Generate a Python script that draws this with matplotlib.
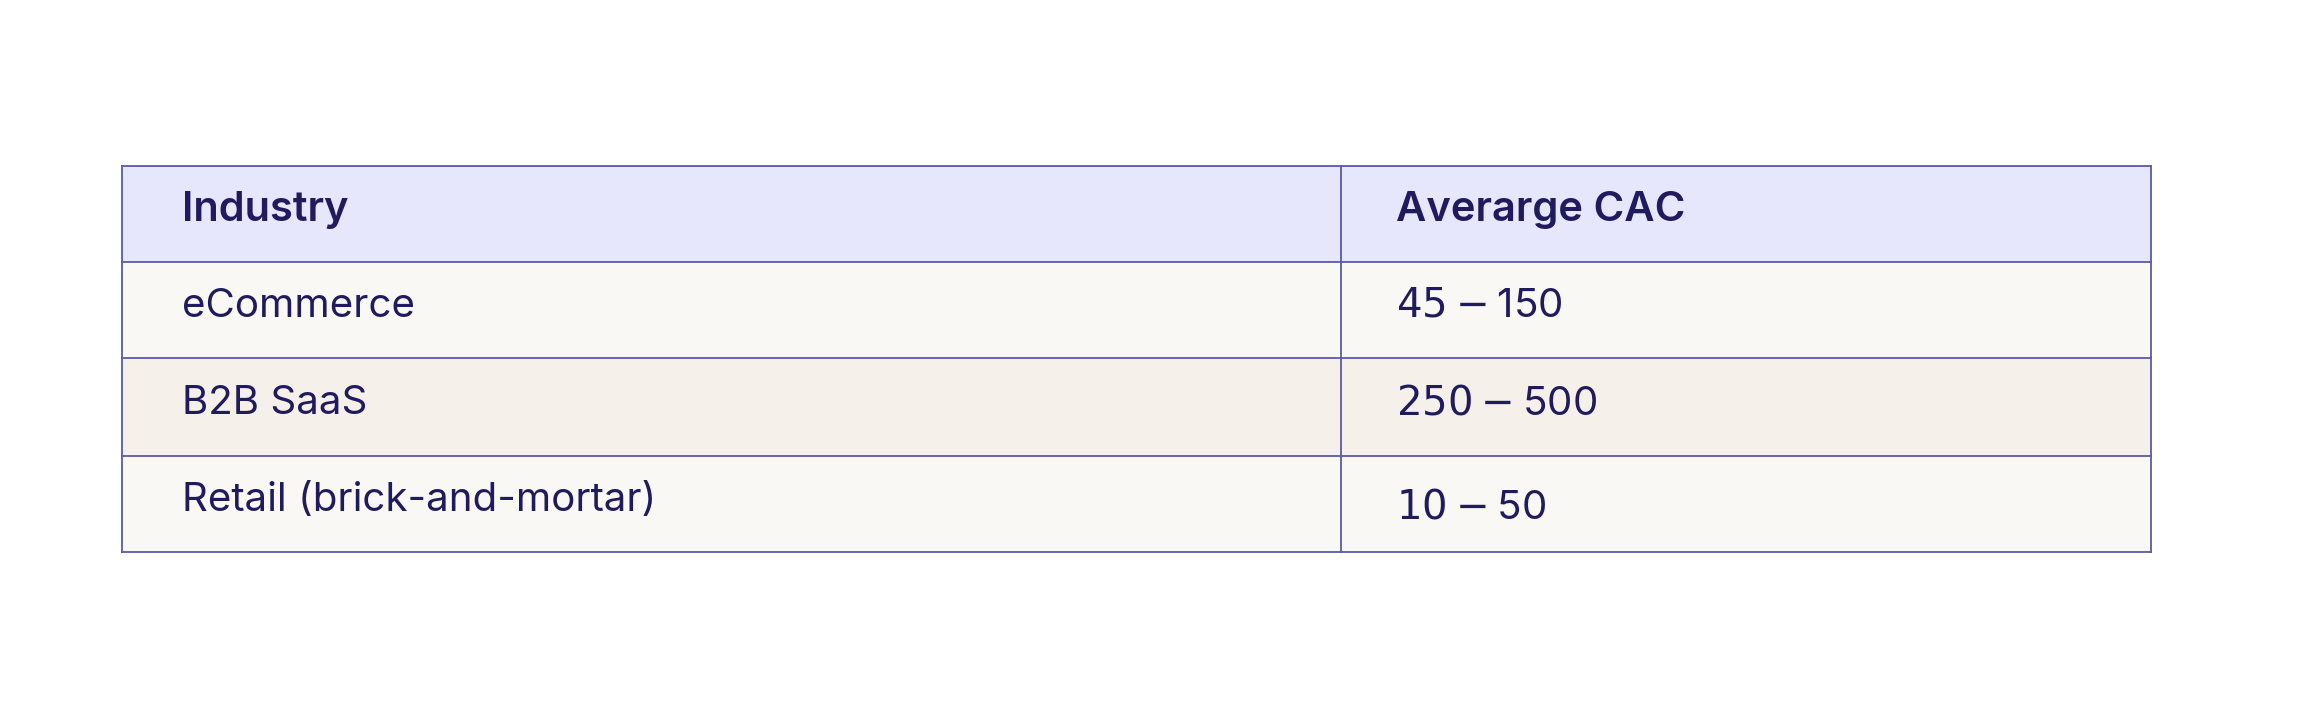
import matplotlib.pyplot as plt
from matplotlib.patches import Rectangle

plt.rcParams['font.family'] = ['Inter', 'DejaVu Sans']

headers = ['Industry', 'Averarge CAC']
industries = ['eCommerce', 'B2B SaaS', 'Retail (brick-and-mortar)']
cac_ranges = ['$45-$150', '$250-$500', '$10-$50']

W, H = 2300, 702
fig = plt.figure(figsize=(W / 100, H / 100), dpi=100)
ax = fig.add_axes([0, 0, 1, 1])
ax.set_xlim(0, 1)
ax.set_ylim(1, 0)
ax.axis('off')

left, right, mid = 0.053, 0.935, 0.583
row_y = [0.236, 0.373, 0.510, 0.650, 0.787]
fills = ['#e6e6fc', '#f9f8f5', '#f5f1ea', '#f9f8f5']
border = '#5b5aa6'
ink = '#1f1b5e'

for i, c in enumerate(fills):
    ax.add_patch(Rectangle((left, row_y[i]), right - left, row_y[i + 1] - row_y[i],
                           facecolor=c, edgecolor='none'))
for y in row_y:
    ax.plot([left, right], [y, y], color=border, lw=1.3)
for x in (left, mid, right):
    ax.plot([x, x], [row_y[0], row_y[-1]], color=border, lw=1.3)

tx = [0.079, 0.607]
for j, h in enumerate(headers):
    ax.text(tx[j], (row_y[0] + row_y[1]) / 2 - 0.005, h, fontsize=30, fontweight='semibold',
            color=ink, va='center')
offsets = [0, 0, 0.01]
for i, (a, b) in enumerate(zip(industries, cac_ranges)):
    yc = (row_y[i + 1] + row_y[i + 2]) / 2 - 0.005
    ax.text(tx[0], yc, a, fontsize=29, color=ink, va='center')
    ax.text(tx[1], yc + offsets[i], b, fontsize=29, color=ink, va='center')

fig.savefig('out.png', dpi=100, facecolor='white')
